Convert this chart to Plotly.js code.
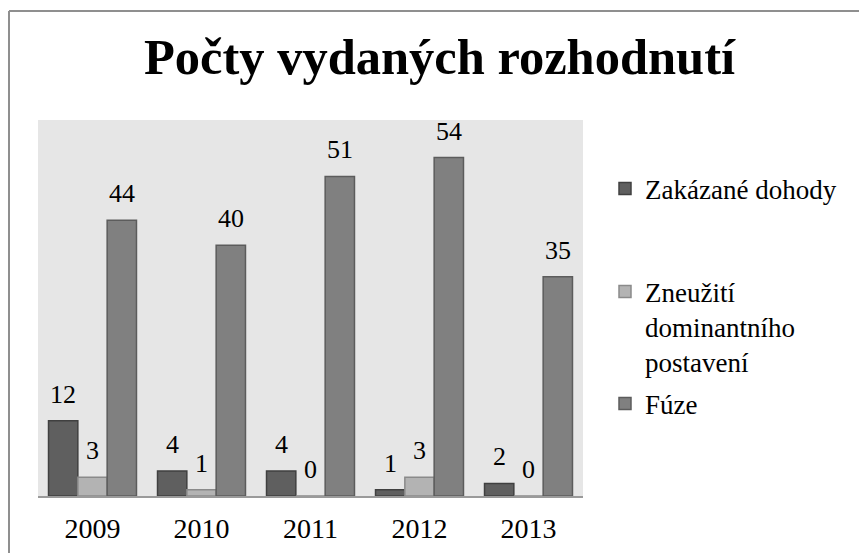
<!DOCTYPE html>
<html>
<head>
<meta charset="utf-8">
<script src="https://cdn.plot.ly/plotly-3.0.1.min.js"></script>
<style>html,body{margin:0;padding:0;background:#fff;}#chart{width:859px;height:553px;}</style>
</head>
<body>
<div id="chart"></div>
<script>
// ---- data ----
const years = ["2009", "2010", "2011", "2012", "2013"];
const seriesNames = ["Zakázané dohody", "Zneužití<br>dominantního<br>postavení", "Fúze"];
const zakazaneDohody = [12, 4, 4, 1, 2];
const zneuzitiDominantnihoPostaveni = [3, 1, 0, 3, 0];
const fuze = [44, 40, 51, 54, 35];
const titleText = "Počty vydaných rozhodnutí";

// ---- style ----
const W = 859, H = 553;
const M = {l: 38, r: 276, t: 120, b: 57};
const plotW = W - M.l - M.r;
const bargap = 0.193;
const serif = "Liberation Serif, Times New Roman, serif";
const fills = ["#5f5f5f", "#b3b3b3", "#808080"];
const edges = ["#404040", "#8a8a8a", "#5c5c5c"];
const allValues = [zakazaneDohody, zneuzitiDominantnihoPostaveni, fuze];
const legendIds = ["legend", "legend2", "legend3"];

const traces = allValues.map((vals, i) => ({
  type: "bar",
  x: years,
  y: vals,
  name: seriesNames[i],
  legend: legendIds[i],
  marker: {color: fills[i], line: {color: edges[i], width: 1.5}}
}));

// value labels: annotations at category index / value, offset to each bar of the group
const barW = plotW / years.length * (1 - bargap) / 3;
const annotations = [];
allValues.forEach((vals, i) => {
  vals.forEach((v, j) => {
    annotations.push({
      x: j, y: v, xref: "x", yref: "y",
      text: String(v), showarrow: false,
      xshift: (i - 1) * barW, yshift: 10,
      yanchor: "bottom", xanchor: "center",
      font: {family: serif, size: 26, color: "#000"}
    });
  });
});

const px2x = px => (px - M.l) / plotW;
const py2y = py => (H - M.b - py) / (H - M.t - M.b);
const border = {color: "#8f8f8f", width: 2};
const shapes = [
  {type: "line", xref: "paper", yref: "paper", x0: px2x(9), x1: px2x(9), y0: py2y(H + 5), y1: py2y(11), line: border},
  {type: "line", xref: "paper", yref: "paper", x0: px2x(9), x1: px2x(W + 5), y0: py2y(11), y1: py2y(11), line: border}
];

const legendBase = {
  xref: "container", yref: "container", xanchor: "left", yanchor: "middle",
  bgcolor: "rgba(0,0,0,0)", borderwidth: 0,
  font: {family: serif, size: 27, color: "#000"}, valign: "top"
};

const layout = {
  width: W, height: H,
  margin: M,
  paper_bgcolor: "#ffffff",
  plot_bgcolor: "#e6e6e6",
  barmode: "group",
  bargap: bargap,
  bargroupgap: 0,
  title: {
    text: "<b>" + titleText + "</b>",
    font: {family: serif, size: 50.5, color: "#000"},
    x: 439.5 / W, xref: "container", xanchor: "center",
    y: 1 - 56.5 / H, yref: "container", yanchor: "middle"
  },
  xaxis: {
    type: "category",
    range: [-0.5, years.length - 0.5],
    showline: true, linecolor: "#9a9a9a", linewidth: 2,
    ticks: "", showgrid: false, zeroline: false,
    tickfont: {family: serif, size: 28, color: "#000"},
    ticklabelstandoff: 6
  },
  yaxis: {range: [0, 60], showticklabels: false, showgrid: false, zeroline: false, showline: false, ticks: ""},
  showlegend: true,
  legend: Object.assign({}, legendBase, {x: 605 / W, y: 1 - 189 / H}),
  legend2: Object.assign({}, legendBase, {x: 605 / W, y: 1 - 327 / H}),
  legend3: Object.assign({}, legendBase, {x: 605 / W, y: 1 - 404 / H}),
  annotations: annotations,
  shapes: shapes
};

Plotly.newPlot("chart", traces, layout, {displayModeBar: false, staticPlot: true});
</script>
</body>
</html>
